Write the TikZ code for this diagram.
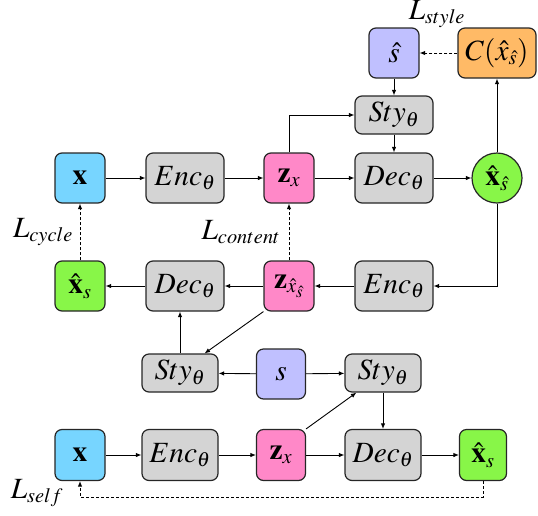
\documentclass[tikz,border=0pt]{standalone}
\usepackage{mathptmx}
\usepackage{graphicx}
\usetikzlibrary{arrows.meta,calc}
\newcommand{\mt}[1]{\scalebox{1.18}{$#1$}}
\definecolor{cblue}{RGB}{119,213,255}
\definecolor{cpink}{RGB}{255,136,200}
\definecolor{cgreen}{RGB}{136,246,72}
\definecolor{cgray}{RGB}{212,212,212}
\definecolor{clav}{RGB}{192,192,255}
\definecolor{corange}{RGB}{255,186,102}
\tikzset{
  every node/.style={font=\fontsize{24.88}{28}\selectfont, inner sep=0pt},
  box/.style={draw=black!85, line width=1.2pt, rounded corners=7pt, minimum width=50pt, minimum height=50pt},
  wbox/.style={box, minimum width=78pt},
  sbox/.style={box, minimum width=78pt, minimum height=38pt},
  arr/.style={-{Latex[length=5.5pt,width=4.5pt]}, line width=0.9pt},
  darr/.style={arr, dash pattern=on 3pt off 2pt},
}
\begin{document}
\begin{tikzpicture}[x=1pt,y=-1pt]
\useasboundingbox (0,0) rectangle (538,515);
% row 1
\node[box, fill=cblue] (x1) at (80,178) {\mt{\mathbf{x}}};
\node[wbox, fill=cgray] (enc1) at (185,178) {\mt{Enc_\theta}};
\node[box, fill=cpink] (z1) at (289,178) {\mt{\mathbf{z}_x}};
\node[wbox, fill=cgray] (dec1) at (394,178) {\mt{Dec_\theta}};
\node[draw=black!85, line width=1.2pt, circle, fill=cgreen, minimum size=50pt] (c1) at (497,178) {\mt{\hat{\mathbf{x}}_{\hat{s}}}};
\node[sbox, fill=cgray] (sty1) at (394,115) {\mt{Sty_\theta}};
\node[box, fill=clav] (shat) at (394,53) {\mt{\hat{s}}};
\node[wbox, fill=corange] (cls) at (497,53) {\mt{C(\hat{x}_{\hat{s}})}};
\node (lstyle) at (437,14) {\mt{L_{style}}};
% row 2
\node[box, fill=cgreen] (xs2) at (80,286) {\mt{\hat{\mathbf{x}}_s}};
\node[wbox, fill=cgray] (dec2) at (185,286) {\mt{Dec_\theta}};
\node[box, fill=cpink] (z2) at (289,286) {\mt{\mathbf{z}_{\hat{x}_{\hat{s}}}}};
\node[wbox, fill=cgray] (enc2) at (394,286) {\mt{Enc_\theta}};
\node (lcycle) at (43,232) {\mt{L_{cycle}}};
\node (lcontent) at (241,232) {\mt{L_{content}}};
% row 3
\node[sbox, minimum width=76pt, fill=cgray] (sty3l) at (180,373) {\mt{Sty_\theta}};
\node[box, minimum width=49pt, fill=clav] (s3) at (281,374) {\mt{s}};
\node[sbox, minimum width=76pt, fill=cgray] (sty3r) at (383,373) {\mt{Sty_\theta}};
% row 4
\node[box, minimum height=51pt, fill=cblue] (x4) at (80,455) {\mt{\mathbf{x}}};
\node[wbox, minimum width=76pt, minimum height=51pt, fill=cgray] (enc4) at (180,455) {\mt{Enc_\theta}};
\node[box, minimum width=49pt, minimum height=51pt, fill=cpink] (z4) at (281,455) {\mt{\mathbf{z}_x}};
\node[wbox, minimum width=76pt, minimum height=51pt, fill=cgray] (dec4) at (383,455) {\mt{Dec_\theta}};
\node[box, minimum width=47pt, minimum height=51pt, fill=cgreen] (xs4) at (483,455) {\mt{\hat{\mathbf{x}}_s}};
\node (lself) at (37,493) {\mt{L_{self}}};
\coordinate (selfc) at (80,497);
% connectors row 1
\draw[arr] (x1) -- (enc1);
\draw[arr] (enc1) -- (z1);
\draw[arr] (z1) -- (dec1);
\draw[arr] (dec1) -- (c1);
\draw[arr] (z1.north) |- (sty1.west);
\draw[arr] (shat) -- (sty1);
\draw[arr] (sty1) -- (dec1);
\draw[arr] (c1) -- (cls);
\draw[darr] (cls) -- (shat);
\draw[arr] (c1.south) |- (enc2.east);
% row 2
\draw[arr] (enc2) -- (z2);
\draw[arr] (z2) -- (dec2);
\draw[arr] (dec2) -- (xs2);
\draw[darr] (xs2) -- (x1);
\draw[darr] (z2) -- (z1);
% row 3
\draw[arr] (z2.south west) -- ([xshift=-14pt]sty3l.north east);
\draw[arr] (sty3l.north) -- (sty3l.north |- dec2.south);
\draw[arr] (s3) -- (sty3l);
\draw[arr] (s3) -- (sty3r);
\draw[arr] (sty3r) -- (dec4);
\draw[arr] (z4.north east) -- ([xshift=12pt]sty3r.south west);
% row 4
\draw[arr] (x4) -- (enc4);
\draw[arr] (enc4) -- (z4);
\draw[arr] (z4) -- (dec4);
\draw[arr] (dec4) -- (xs4);
\draw[darr] (xs4.south) |- (selfc) -- (x4.south);
\end{tikzpicture}
\end{document}
